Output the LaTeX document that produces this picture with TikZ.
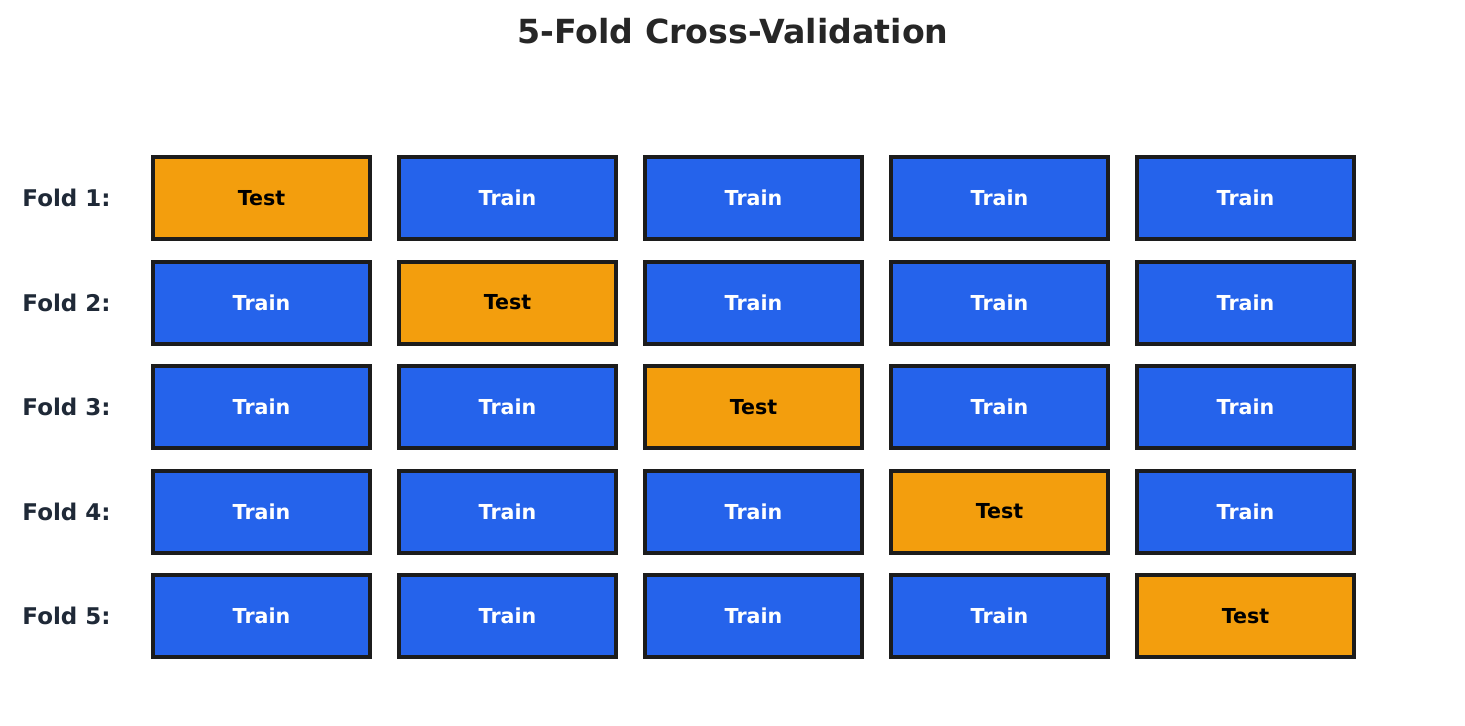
\documentclass[tikz,border=0pt]{standalone}
\usepackage{fontspec}
\setmainfont{DejaVu Sans}
\usepackage{xcolor}
\usetikzlibrary{positioning}

\definecolor{trainblue}{HTML}{2563EB}
\definecolor{testorange}{HTML}{F39E0D}
\definecolor{edgegray}{HTML}{1C1C1C}
\definecolor{labelgray}{HTML}{1F2937}
\definecolor{titlegray}{HTML}{262626}

\tikzset{
    foldbox/.style={draw=edgegray, line width=2pt, minimum width=108.5pt, minimum height=41pt, inner sep=0pt, font=\fontsize{10.3}{12}\selectfont\bfseries},
    trainbox/.style={foldbox, fill=trainblue, text=white},
    testbox/.style={foldbox, fill=testorange, text=black},
    foldlabel/.style={anchor=east, inner sep=0pt, text=labelgray, font=\fontsize{11.5}{13}\selectfont\bfseries}
}

\begin{document}
\begin{tikzpicture}[x=0.5pt, y=-0.5pt]
        \useasboundingbox (0,0) rectangle (1465,725);

        % Title
        \node[text=titlegray, font=\fontsize{16.6}{19}\selectfont\bfseries] (title) at (733,31) {5-Fold Cross-Validation};

        % Fold rows: label and five boxes each
        \foreach \r in {1,...,5} {
            \node[foldlabel] (lab\r) at (111,{198+104.5*(\r-1)}) {Fold \r:};
            \foreach \c in {1,...,5} {
                \ifnum\c=\r
                    \node[testbox] (f\r c\c) at ({261.5+246*(\c-1)},{198+104.5*(\r-1)}) {Test};
                \else
                    \node[trainbox] (f\r c\c) at ({261.5+246*(\c-1)},{198+104.5*(\r-1)}) {Train};
                \fi
            }
        }
    \end{tikzpicture}
\end{document}
